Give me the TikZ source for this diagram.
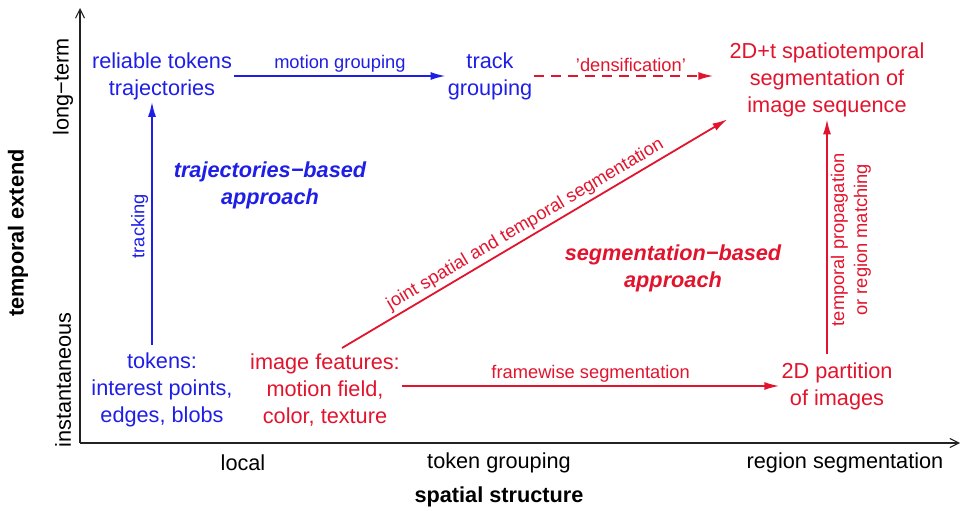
\documentclass[tikz,border=0pt]{standalone}
\usepackage{fontspec}
\setmainfont{Liberation Sans}
\usetikzlibrary{arrows.meta,positioning,calc}
\definecolor{TrajBlue}{HTML}{1E1EE6}
\definecolor{SegRed}{HTML}{E2142D}
\definecolor{AxisGrey}{HTML}{222222}
\tikzset{
  axis/.style={-{Straight Barb[length=9pt,width=9pt]}, line width=1.1pt, draw=AxisGrey},
  bigtxt/.style={font=\fontsize{21.7}{27}\selectfont, align=center, inner sep=2pt},
  smalltxt/.style={font=\fontsize{18.3}{23}\selectfont, align=center, inner sep=3pt},
  tokbox/.style={bigtxt, text=TrajBlue},
  segbox/.style={bigtxt, text=SegRed},
  trajflow/.style={-{Latex[length=15pt,width=8pt]}, line width=1.8pt, draw=TrajBlue},
  segflow/.style={-{Latex[length=15pt,width=8pt]}, line width=1.8pt, draw=SegRed},
  densflow/.style={segflow, dash pattern=on 10pt off 7pt},
  approach/.style={bigtxt, font=\fontsize{21.7}{27}\selectfont\bfseries\itshape},
}
\begin{document}
\begin{tikzpicture}[x=1pt,y=-1pt]
    \useasboundingbox (0,0) rectangle (962,511);
    % axes
    \coordinate (orig) at (80,443);
    \coordinate (ytip) at (80,8);
    \coordinate (xtip) at (960,443);
    \draw[axis] (orig) -- (ytip);
    \draw[axis] (orig) -- (xtip);
    \node[bigtxt,font=\fontsize{21.7}{27}\selectfont\bfseries,rotate=90] (ylab) at (18,233) {temporal extend};
    \node[bigtxt,rotate=90] (ylong) at (63,87) {long−term};
    \node[bigtxt,rotate=90] (yinst) at (63,380) {instantaneous};
    \node[bigtxt] (xloc) at (243,463) {local};
    \node[bigtxt] (xgrp) at (499,463) {token grouping};
    \node[bigtxt] (xreg) at (845,463) {region segmentation};
    \node[bigtxt,font=\fontsize{21.7}{27}\selectfont\bfseries] (xlab) at (499,497) {spatial structure};
    % trajectories-based side
    \node[tokbox] (rel) at (162,76) {reliable tokens\\trajectories};
    \node[tokbox] (grp) at (490,76) {track\\grouping};
    \node[tokbox] (tok) at (162,390) {tokens:\\interest points,\\edges, blobs};
    \node[approach,text=TrajBlue] (trajapp) at (270,185) {trajectories−based\\approach};
    % segmentation-based side
    \node[segbox] (seq) at (827,80) {2D+t spatiotemporal\\segmentation of\\image sequence};
    \node[segbox] (feat) at (325,390) {image features:\\motion field,\\color, texture};
    \node[segbox] (part) at (837,386) {2D partition\\of images};
    \node[approach,text=SegRed] (segapp) at (673,268) {segmentation−based\\approach};
    % connectors
    \draw[trajflow] (rel.east) -- node[smalltxt,text=TrajBlue,above] {motion grouping} (grp.west |- rel.east);
    \draw[trajflow,shorten <=6pt] ([xshift=-10pt]tok.north) -- node[smalltxt,text=TrajBlue,above,sloped] {tracking} ([xshift=-10pt]rel.south);
    \draw[densflow,shorten >=14pt] (grp.east) -- node[smalltxt,text=SegRed,above] {'densification'} (grp.east -| seq.west);
    \draw[segflow,shorten <=7pt] ([xshift=11pt]feat.north) -- node[smalltxt,text=SegRed,above,sloped] {joint spatial and temporal segmentation} (seq.south west);
    \draw[segflow] (feat.east |- part.west) -- node[smalltxt,text=SegRed,above] {framewise segmentation} (part.west);
    \draw[segflow,shorten <=6pt] (part.north -| seq.south) -- node[smalltxt,text=SegRed,below,sloped] {temporal propagation\\or region matching} (seq.south);
\end{tikzpicture}
\end{document}
